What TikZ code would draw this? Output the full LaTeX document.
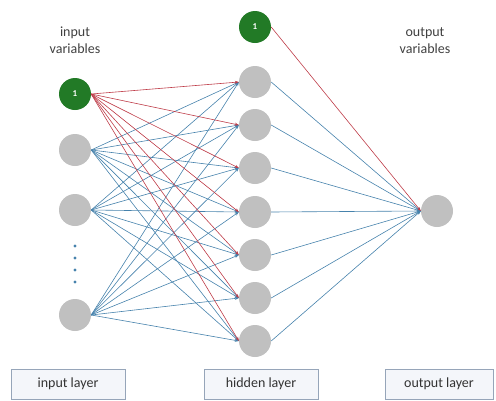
\documentclass[tikz,border=0pt]{standalone}
\usepackage{fontspec}
\setmainfont{Carlito}
\usepackage{tikz}
\usetikzlibrary{arrows.meta,positioning}
\definecolor{nodegray}{RGB}{192,192,192}
\definecolor{biasgreen}{RGB}{34,122,38}
\definecolor{wred}{RGB}{190,60,72}
\definecolor{wblue}{RGB}{70,130,172}
\definecolor{boxfill}{RGB}{244,246,250}
\definecolor{boxline}{RGB}{150,165,185}
\newcommand{\nsize}{32pt}
\newcommand{\lw}{0.6pt}

\tikzset{
	neuron/.style = {circle, fill=nodegray, minimum size=\nsize, inner sep=0pt},
	bias/.style = {circle, fill=biasgreen, minimum size=\nsize, inner sep=0pt,
		text=white, font=\fontsize{9}{10}\selectfont\bfseries},
	redw/.style = {draw=wred, line width=\lw, -{Stealth[length=4pt,width=3pt]}},
	bluew/.style = {draw=wblue, line width=\lw, -{Stealth[length=4pt,width=3pt]}},
	layerbox/.style = {draw=boxline, fill=boxfill, line width=0.5pt,
		minimum width=114pt, minimum height=30pt, text=black!80,
		font=\fontsize{14}{16}\selectfont},
	caption/.style = {align=center, text=black!75, font=\fontsize{14}{17}\selectfont}
}

\begin{document}
\begin{tikzpicture}[x=1pt,y=-1pt]
	\useasboundingbox (0,0) rectangle (496,400);
	
	% input layer
	\node[bias] (i0) at (75,94) {1};
	\node[neuron] (i1) at (75,150) {};
	\node[neuron] (i2) at (75,210) {};
	\node[neuron] (i3) at (75,315) {};
	\foreach \y in {246,258,270,282}
		\fill[wblue] (75,\y) circle (1.6pt);
	
	% hidden layer
	\node[bias] (h0) at (255,27) {1};
	\foreach \k/\y in {1/82,2/125,3/168,4/212,5/255,6/298,7/341}
		\node[neuron] (h\k) at (255,\y) {};
	
	% output layer
	\node[neuron] (o1) at (437,211) {};
	
	% captions
	\node[caption] (incap) at (75,40) {input\\variables};
	\node[caption] (outcap) at (425,41) {output\\variables};
	
	% edges input -> hidden
	\foreach \k in {1,...,7}{
		\foreach \j in {1,2,3}
			\draw[bluew] (i\j.east) -- (h\k.west);
	}
	\foreach \k in {1,...,7}
		\draw[redw] (i0.east) -- (h\k.west);
	
	% edges hidden -> output
	\foreach \k in {1,...,7}
		\draw[bluew] (h\k.east) -- (o1.west);
	\draw[redw] (h0.east) -- (o1.west);
	
	% layer boxes
	\node[layerbox] (inbox) at (68,384) {input layer};
	\node[layerbox] (hidbox) at (261,384) {hidden layer};
	\node[layerbox, minimum width=108pt] (outbox) at (439,384) {output layer};
\end{tikzpicture}
\end{document}
